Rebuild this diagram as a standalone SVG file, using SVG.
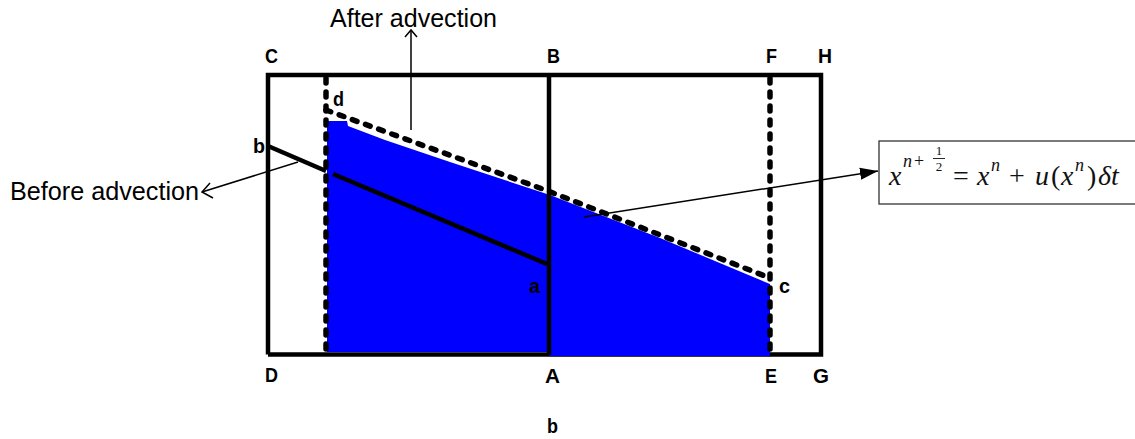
<svg xmlns="http://www.w3.org/2000/svg" width="1135" height="439" viewBox="0 0 1135 439">
<style>
.lbl{font-family:"Liberation Sans",Arial,sans-serif;font-weight:bold;font-size:21px;fill:#000}
.cap{font-family:"Liberation Sans",Arial,sans-serif;font-size:25px;fill:#000}
.thick{stroke:#000;stroke-width:4.5;fill:none}
.dash{stroke:#000;stroke-width:5.5;fill:none;stroke-dasharray:5 9;stroke-linecap:round}
.thin{stroke:#000;stroke-width:1.5;fill:none}
.m{font-family:"Liberation Serif","Times New Roman",serif;fill:#111}
.mi{font-style:italic}
</style>
<defs>
<marker id="fa" markerUnits="userSpaceOnUse" markerWidth="20" markerHeight="14" refX="18" refY="7" orient="auto">
<path d="M0,1 L18,7 L0,13 z" fill="#000"/>
</marker>
</defs>
<rect width="1135" height="439" fill="#fff"/>
<g id="fill-region">
<path d="M327,121 L347,121 L348,126 L385,140 L450,162 L550,195 L660,238 L770,284 L770,356 L549,356 L549,352 L327,352 Z" fill="#0000ff"/>
</g>
<g id="frame">
<path class="thick" d="M268,354.5 L268,75 L821,75 L821,354.5 L770,354.5"/>
<path class="thick" d="M268,354.5 L549,354.5"/>
<path class="thick" d="M549,75 L549,355"/>
<line x1="549" y1="356.5" x2="770" y2="356.5" stroke="#333" stroke-width="1"/>
</g>
<g id="dashed">
<path class="dash" d="M326,78 L326,352"/>
<path class="dash" d="M770,78 L770,352"/>
<path class="dash" d="M326,110 L548,191 L770,278"/>
</g>
<g id="line-ba">
<path class="thick" d="M268,146 L326,171"/>
<path class="thick" d="M333,174 L547,264"/>
</g>
<g id="connectors">
<path class="thin" d="M411,130 L411,30"/>
<path class="thin" d="M405,37 L411,30 L417,37"/>
<path class="thin" d="M298,162 L202,192"/>
<path class="thin" d="M210,183 L202,192 L213,198"/>
<line x1="584" y1="217" x2="878" y2="171" stroke="#000" stroke-width="1.5" marker-end="url(#fa)"/>
</g>
<g id="labels">
<text class="lbl" x="265" y="63" textLength="13" lengthAdjust="spacingAndGlyphs">C</text>
<text class="lbl" x="547" y="63" textLength="13" lengthAdjust="spacingAndGlyphs">B</text>
<text class="lbl" x="766" y="63" textLength="11" lengthAdjust="spacingAndGlyphs">F</text>
<text class="lbl" x="818" y="63" textLength="14" lengthAdjust="spacingAndGlyphs">H</text>
<text class="lbl" x="333" y="106" textLength="11" lengthAdjust="spacingAndGlyphs">d</text>
<text class="lbl" x="253" y="153" textLength="12" lengthAdjust="spacingAndGlyphs">b</text>
<text class="lbl" x="529" y="293" textLength="11" lengthAdjust="spacingAndGlyphs">a</text>
<text class="lbl" x="779" y="293" textLength="11" lengthAdjust="spacingAndGlyphs">c</text>
<text class="lbl" x="265" y="382" textLength="13" lengthAdjust="spacingAndGlyphs">D</text>
<text class="lbl" x="545" y="383" textLength="15" lengthAdjust="spacingAndGlyphs">A</text>
<text class="lbl" x="765" y="383" textLength="12" lengthAdjust="spacingAndGlyphs">E</text>
<text class="lbl" x="813" y="383" textLength="16" lengthAdjust="spacingAndGlyphs">G</text>
<text class="lbl" x="547" y="433" textLength="11" lengthAdjust="spacingAndGlyphs">b</text>
</g>
<g id="after-label">
<text class="cap" x="330" y="27" textLength="167" lengthAdjust="spacingAndGlyphs">After advection</text>
</g>
<g id="before-label">
<text class="cap" x="10" y="200" textLength="189" lengthAdjust="spacingAndGlyphs">Before advection</text>
</g>
<g id="formula">
<rect x="879" y="141" width="270" height="63" fill="#fff" stroke="#333" stroke-width="1.3"/>
<text class="m mi" x="889" y="185" font-size="28">x</text>
<text class="m mi" x="903" y="167" font-size="18">n</text>
<text class="m" x="914" y="167" font-size="18">+</text>
<text class="m" x="939" y="155" font-size="13" text-anchor="middle">1</text>
<line x1="933" y1="158.5" x2="945" y2="158.5" stroke="#111" stroke-width="0.9"/>
<text class="m" x="939" y="171" font-size="13" text-anchor="middle">2</text>
<text class="m" x="953" y="185" font-size="28">=</text>
<text class="m mi" x="977" y="185" font-size="28">x</text>
<text class="m mi" x="991" y="171" font-size="18">n</text>
<text class="m" x="1009" y="185" font-size="28">+</text>
<text class="m mi" x="1035" y="185" font-size="28">u</text>
<text class="m" x="1051" y="185" font-size="28">(</text>
<text class="m mi" x="1061" y="185" font-size="28">x</text>
<text class="m mi" x="1075" y="171" font-size="18">n</text>
<text class="m" x="1087" y="185" font-size="28">)</text>
<text class="m mi" x="1098" y="185" font-size="28">δt</text>
</g>
</svg>
